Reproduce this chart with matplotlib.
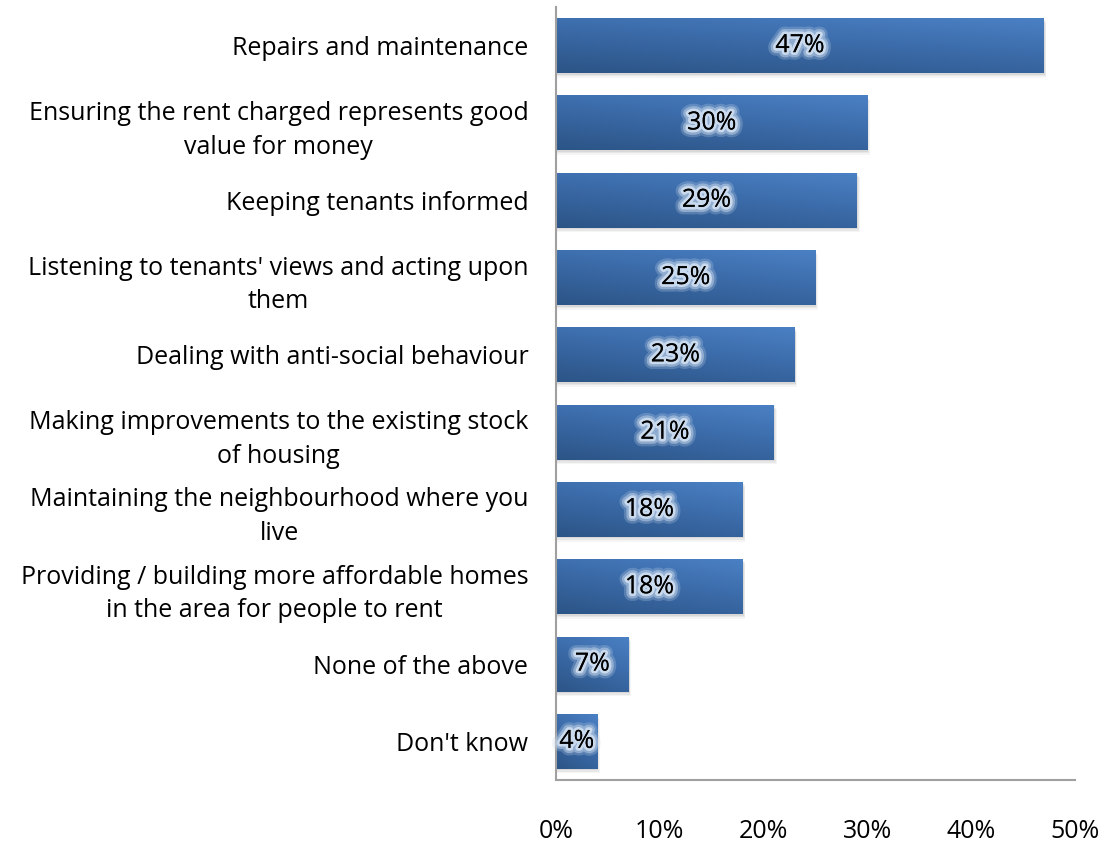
import numpy as np
import matplotlib.pyplot as plt
import matplotlib.patheffects as pe
from matplotlib.patches import Rectangle
from matplotlib.colors import LinearSegmentedColormap

categories = [
    "Repairs and maintenance",
    "Ensuring the rent charged represents good\nvalue for money",
    "Keeping tenants informed",
    "Listening to tenants' views and acting upon\nthem",
    "Dealing with anti-social behaviour",
    "Making improvements to the existing stock\nof housing",
    "Maintaining the neighbourhood where you\nlive",
    "Providing / building more affordable homes\nin the area for people to rent",
    "None of the above",
    "Don't know",
]
values = [47, 30, 29, 25, 23, 21, 18, 18, 7, 4]
xticks = [0, 10, 20, 30, 40, 50]

plt.rcParams["font.family"] = ["Open Sans", "DejaVu Sans"]

fig = plt.figure(figsize=(11.07, 8.43), dpi=100)
ax = fig.add_axes([0.5023, 0.0747, 0.4688, 0.917])

n = len(categories)
ypos = np.arange(n)
bar_h = 0.71

# gradient: dark at bottom-left, lighter towards top-right
cmap = LinearSegmentedColormap.from_list("bar", ["#2c5587", "#3a69a6", "#4a80c4"])
gx, gy = np.meshgrid(np.linspace(0, 1, 64), np.linspace(0, 1, 32))
grad = 0.35 * gx + 0.65 * gy

for y, v in zip(ypos, values):
    # soft drop shadow under each bar
    for k, a in enumerate([0.10, 0.08, 0.06]):
        ax.add_patch(Rectangle((0, y - bar_h / 2 + 0.02 * (k + 1)), v + 0.08 * (k + 1), bar_h,
                               facecolor="#555555", alpha=a, edgecolor="none", zorder=1))
    ax.imshow(grad, cmap=cmap, aspect="auto", origin="lower",
              extent=(0, v, y + bar_h / 2, y - bar_h / 2), zorder=2, interpolation="bicubic")
    ax.text(v / 2, y, f"{v}%", ha="center", va="center", fontsize=18, color="black", zorder=4,
            path_effects=[pe.withStroke(linewidth=11, foreground="#c5d6ea", alpha=0.25),
                          pe.withStroke(linewidth=7.5, foreground="#c5d6ea", alpha=0.5),
                          pe.withStroke(linewidth=4, foreground="#c9daee", alpha=1.0),
                          pe.Normal()])

ax.set_xlim(0, 50)
ax.set_ylim(n - 0.5, -0.5)
ax.set_xticks(xticks)
ax.set_xticklabels([f"{t}%" for t in xticks], fontsize=18)
ax.set_yticks(ypos)
ax.set_yticklabels(categories, fontsize=18, linespacing=1.45, multialignment="center")
ax.tick_params(axis="x", length=0, pad=28)
ax.tick_params(axis="y", length=0, pad=20)

for s in ["top", "right"]:
    ax.spines[s].set_visible(False)
for s in ["left", "bottom"]:
    ax.spines[s].set_color("#a0a0a0")
    ax.spines[s].set_linewidth(1.5)

fig.savefig("out.png", dpi=100)
